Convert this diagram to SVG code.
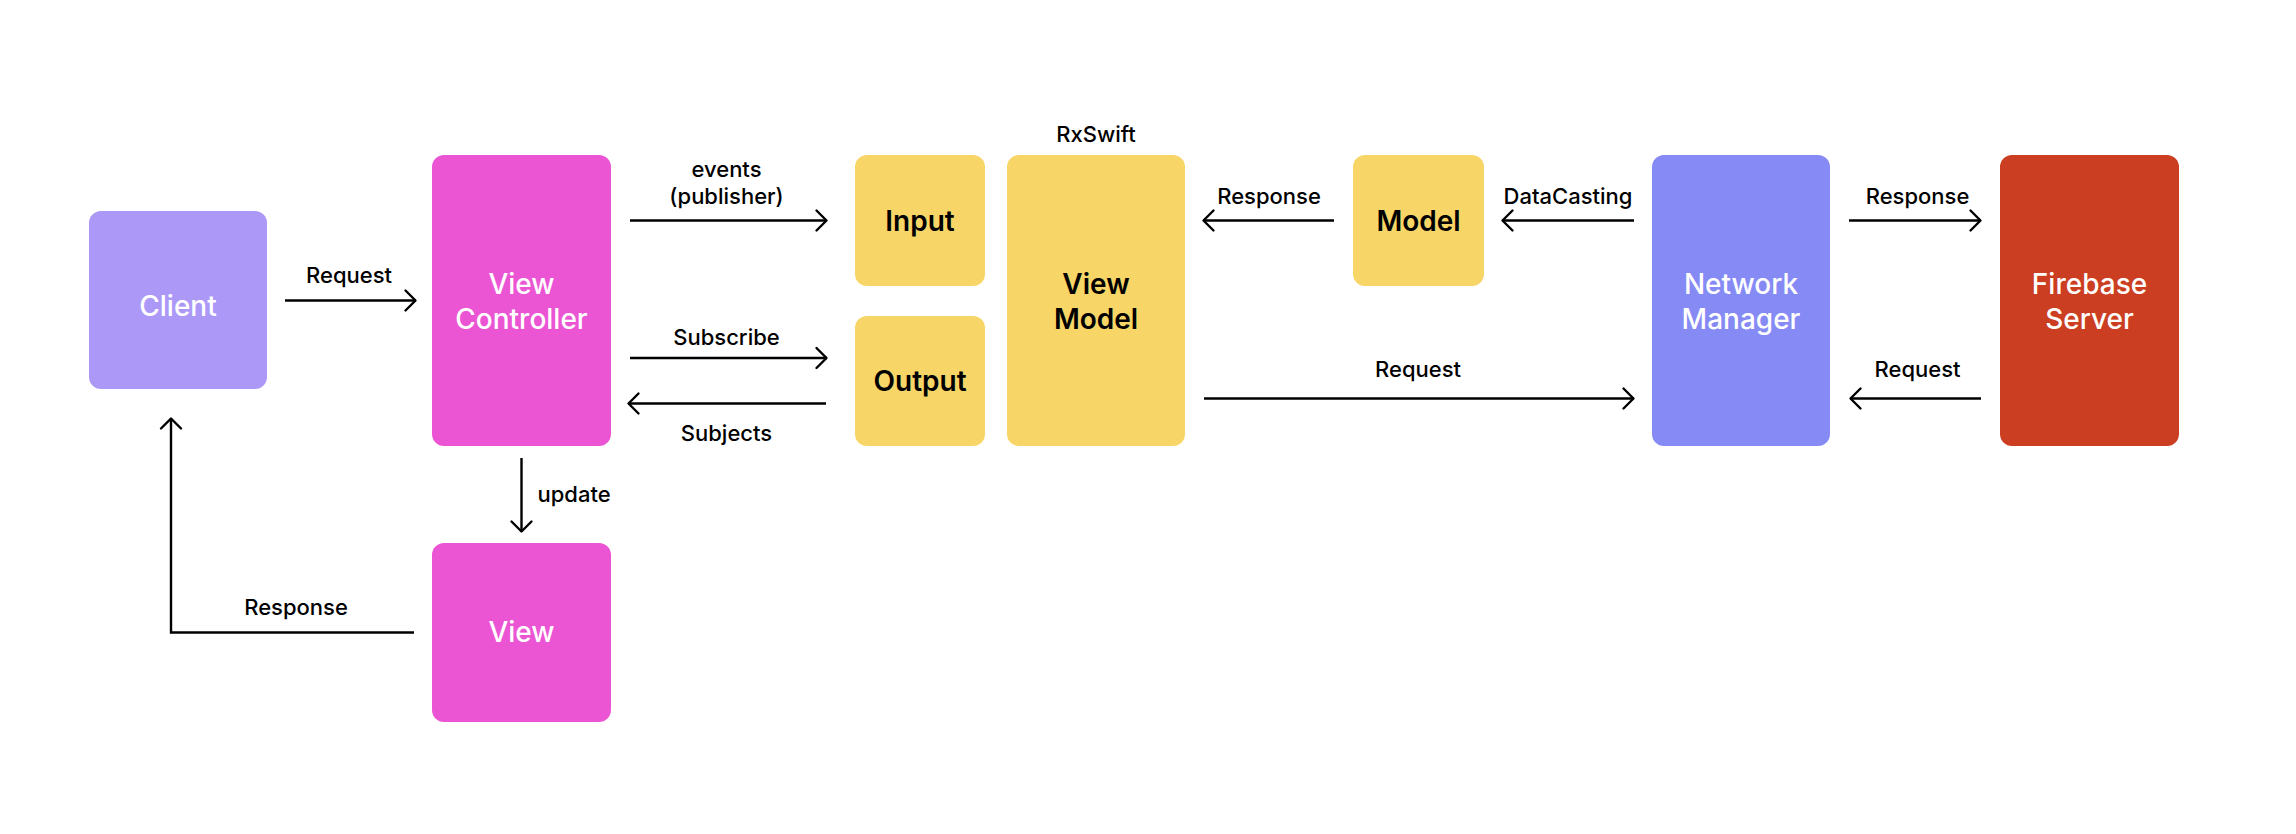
<svg xmlns="http://www.w3.org/2000/svg" width="2296" height="834" viewBox="0 0 2296 834">
  <style>
    .box { stroke: none; }
    .client { fill: #AC99F7; }
    .pink { fill: #EB55D4; }
    .yellow { fill: #F7D667; }
    .network { fill: #868AF5; }
    .firebase { fill: #CC3E21; }
    .lbl-w { font-family: Inter, "Noto Sans", "Liberation Sans", sans-serif; font-size: 28px; font-weight: 500; fill: #FFFFFF; text-anchor: middle; }
    .lbl-k { font-family: Inter, "Noto Sans", "Liberation Sans", sans-serif; font-size: 28px; font-weight: 600; fill: #000000; text-anchor: middle; }
    .edge-lbl { font-family: Inter, "Noto Sans", "Liberation Sans", sans-serif; font-size: 22px; font-weight: 500; fill: #000000; text-anchor: middle; }
    .edge { fill: none; stroke: #000000; stroke-width: 2.4; marker-end: url(#arrow); }
  </style>
  <defs>
    <marker id="arrow" viewBox="-2 -2 16 26" refX="10.5" refY="10" markerWidth="16" markerHeight="26" markerUnits="userSpaceOnUse" orient="auto" overflow="visible">
      <path d="M0,0 L10,10 L0,20" fill="none" stroke="#000000" stroke-width="2.4" stroke-linecap="round" stroke-linejoin="round"/>
    </marker>
  </defs>

  <rect width="2296" height="834" fill="#FFFFFF"/>

  <!-- connectors -->
  <g id="connectors">
    <path class="edge" d="M285,300.5 H416"/>
    <path class="edge" d="M630,220.5 H827"/>
    <path class="edge" d="M630,358 H827"/>
    <path class="edge" d="M826,403.5 H628"/>
    <path class="edge" d="M1334,220.5 H1203"/>
    <path class="edge" d="M1634,220.5 H1502"/>
    <path class="edge" d="M1849,220.5 H1981"/>
    <path class="edge" d="M1204,398.5 H1634"/>
    <path class="edge" d="M1981,398.5 H1850"/>
    <path class="edge" d="M521.5,458 V532"/>
    <path class="edge" d="M414,632.5 H171 V418"/>

    <text class="edge-lbl" x="349" y="283">Request</text>
    <text class="edge-lbl" x="726.5" y="177">events</text>
    <text class="edge-lbl" x="726.5" y="204">(publisher)</text>
    <text class="edge-lbl" x="726.5" y="345">Subscribe</text>
    <text class="edge-lbl" x="726.5" y="441">Subjects</text>
    <text class="edge-lbl" x="1269" y="204">Response</text>
    <text class="edge-lbl" x="1568" y="204">DataCasting</text>
    <text class="edge-lbl" x="1917.5" y="204">Response</text>
    <text class="edge-lbl" x="1418" y="377">Request</text>
    <text class="edge-lbl" x="1917.5" y="377">Request</text>
    <text class="edge-lbl" x="537.5" y="502" text-anchor="start" style="text-anchor:start">update</text>
    <text class="edge-lbl" x="296" y="615">Response</text>
  </g>

  <!-- nodes -->
  <g id="client">
    <rect class="box client" x="89" y="211" width="178" height="178" rx="12"/>
    <text class="lbl-w" x="178" y="316">Client</text>
  </g>

  <g id="view-controller">
    <rect class="box pink" x="432" y="155" width="179" height="291" rx="12"/>
    <text class="lbl-w" x="521.5" y="294">View</text>
    <text class="lbl-w" x="521.5" y="329">Controller</text>
  </g>

  <g id="view">
    <rect class="box pink" x="432" y="543" width="179" height="179" rx="12"/>
    <text class="lbl-w" x="521.5" y="642">View</text>
  </g>

  <g id="input">
    <rect class="box yellow" x="855" y="155" width="130" height="131" rx="12"/>
    <text class="lbl-k" x="920" y="230.5">Input</text>
  </g>

  <g id="output">
    <rect class="box yellow" x="855" y="316" width="130" height="130" rx="12"/>
    <text class="lbl-k" x="920" y="391">Output</text>
  </g>

  <g id="view-model">
    <text class="edge-lbl" x="1096" y="142">RxSwift</text>
    <rect class="box yellow" x="1007" y="155" width="178" height="291" rx="12"/>
    <text class="lbl-k" x="1096" y="294">View</text>
    <text class="lbl-k" x="1096" y="329">Model</text>
  </g>

  <g id="model">
    <rect class="box yellow" x="1353" y="155" width="131" height="131" rx="12"/>
    <text class="lbl-k" x="1418.5" y="230.5">Model</text>
  </g>

  <g id="network-manager">
    <rect class="box network" x="1652" y="155" width="178" height="291" rx="12"/>
    <text class="lbl-w" x="1741" y="294">Network</text>
    <text class="lbl-w" x="1741" y="329">Manager</text>
  </g>

  <g id="firebase-server">
    <rect class="box firebase" x="2000" y="155" width="179" height="291" rx="12"/>
    <text class="lbl-w" x="2089.5" y="294">Firebase</text>
    <text class="lbl-w" x="2089.5" y="329">Server</text>
  </g>
</svg>
